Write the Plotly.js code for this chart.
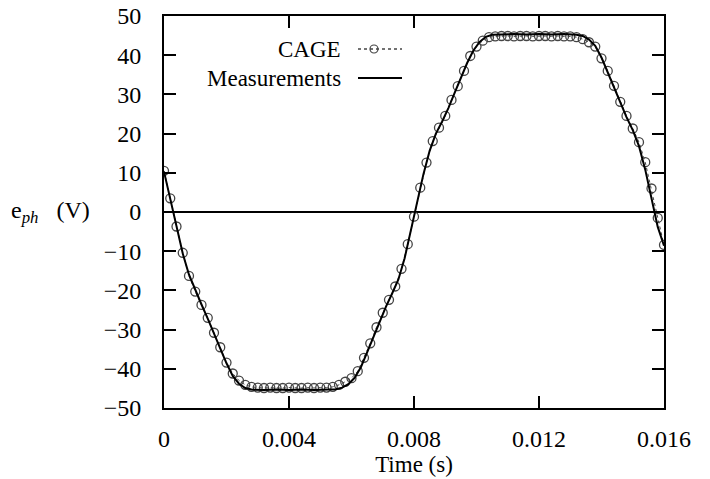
<!DOCTYPE html>
<html>
<head>
<meta charset="utf-8">
<script src="https://cdn.plot.ly/plotly-3.0.1.min.js"></script>
<style>html,body{margin:0;padding:0;background:#fff;}#chart{width:710px;height:479px;}</style>
</head>
<body>
<div id="chart"></div>
<script>
// CAGE simulation samples (time in s, EMF in V)
const cageTime = [0,0.0002,0.0004,0.0006,0.0008,0.001,0.0012,0.0014,0.0016,0.0018,
  0.002,0.0022,0.0024,0.0026,0.0028,0.003,0.0032,0.0034,0.0036,0.0038,
  0.004,0.0042,0.0044,0.0046,0.0048,0.005,0.0052,0.0054,0.0056,0.0058,
  0.006,0.0062,0.0064,0.0066,0.0068,0.007,0.0072,0.0074,0.0076,0.0078,
  0.008,0.0082,0.0084,0.0086,0.0088,0.009,0.0092,0.0094,0.0096,0.0098,
  0.01,0.0102,0.0104,0.0106,0.0108,0.011,0.0112,0.0114,0.0116,0.0118,
  0.012,0.0122,0.0124,0.0126,0.0128,0.013,0.0132,0.0134,0.0136,0.0138,
  0.014,0.0142,0.0144,0.0146,0.0148,0.015,0.0152,0.0154,0.0156,0.0158,0.016];
const cageEmf = [10.5,3.5,-3.7,-10.4,-16.3,-20.3,-23.7,-27.0,-30.8,-34.5,
  -38.4,-41.2,-43.0,-44.1,-44.6,-44.8,-44.9,-44.8,-44.9,-44.9,
  -44.8,-44.9,-44.9,-44.8,-44.9,-44.8,-44.8,-44.6,-44.1,-43.3,
  -42.4,-40.6,-37.2,-33.5,-29.4,-25.7,-22.4,-19.0,-14.5,-8.2,
  -1.2,6.2,12.6,18.1,21.5,24.5,28.6,32.1,36.0,39.8,
  42.2,43.7,44.6,44.8,44.9,44.9,44.8,44.9,44.9,44.8,
  44.9,44.9,44.8,44.9,44.8,44.8,44.6,44.1,43.3,42.2,
  39.2,36.0,32.2,28.1,24.5,21.3,17.8,12.7,6.0,-1.5,-8.4];

// Measured phase EMF
const measTime = [0,0.0002,0.0004,0.0006,0.0008,0.001,0.0012,0.0014,0.0016,0.0018,
  0.002,0.0022,0.0024,0.0026,0.0028,0.0032,0.0036,0.004,0.0044,0.0048,
  0.0052,0.0055,0.0057,0.0059,0.0061,0.0063,0.0065,0.0067,0.0069,0.0071,
  0.0073,0.0075,0.0077,0.0079,0.0081,0.0083,0.0085,0.0087,0.0089,0.0091,
  0.0093,0.0095,0.0097,0.0099,0.0101,0.0103,0.0105,0.0108,0.0112,0.0116,
  0.012,0.0124,0.0128,0.0132,0.0134,0.0136,0.0138,0.014,0.0142,0.0144,
  0.0146,0.0148,0.015,0.0152,0.0154,0.0156,0.0158,0.016];
const measEmf = [10.3,3.3,-3.9,-10.6,-16.0,-20.0,-23.6,-27.2,-31.0,-34.8,
  -38.6,-41.8,-43.8,-44.9,-45.3,-45.4,-45.3,-45.4,-45.3,-45.4,
  -45.3,-45.2,-44.8,-43.9,-42.3,-39.6,-35.8,-31.8,-27.8,-24.2,
  -20.8,-17.2,-11.8,-4.8,2.6,9.6,15.6,20.0,23.1,26.5,
  30.4,34.2,38.0,41.2,43.4,44.7,45.2,45.3,45.4,45.3,
  45.4,45.3,45.4,45.2,44.9,44.0,42.4,39.4,35.6,31.6,
  27.6,24.2,20.9,16.8,10.8,3.6,-3.8,-8.6];

const xTicks = [0,0.004,0.008,0.012,0.016];
const xTickText = ['0','0.004','0.008','0.012','0.016'];
const yTicks = [-50,-40,-30,-20,-10,0,10,20,30,40,50];

const FONT = "'Liberation Serif', 'DejaVu Serif', serif";

const traces = [
  {
    x: cageTime, y: cageEmf, name: 'CAGE', type: 'scatter', mode: 'lines+markers',
    line: {color: '#444', width: 1, dash: 'dot'},
    marker: {symbol: 'circle-open', size: 9, color: '#444', line: {width: 1.3, color: '#444'}},
    showlegend: false
  },
  {
    x: measTime, y: measEmf, name: 'Measurements', type: 'scatter', mode: 'lines',
    line: {color: '#000', width: 2},
    showlegend: false
  }
];

const layout = {
  width: 710, height: 479,
  margin: {l: 164, r: 46, t: 16, b: 71},
  paper_bgcolor: '#fff', plot_bgcolor: '#fff',
  font: {family: FONT, size: 23, color: '#000'},
  showlegend: false,
  xaxis: {
    range: [0, 0.016], tickvals: xTicks, ticktext: xTickText,
    ticks: 'inside', ticklen: 12, tickwidth: 2, tickcolor: '#000',
    showline: true, linewidth: 2, linecolor: '#000', mirror: 'ticks',
    showgrid: false, zeroline: false, ticklabelstandoff: 8,
    tickfont: {family: FONT, size: 24, color: '#000'},
    title: {text: 'Time (s)', font: {family: FONT, size: 23, color: '#000'}, standoff: 0}
  },
  yaxis: {
    range: [-50, 50], tickvals: yTicks,
    ticks: 'inside', ticklen: 12, tickwidth: 2, tickcolor: '#000',
    showline: true, linewidth: 2, linecolor: '#000', mirror: 'ticks',
    showgrid: false, zeroline: true, zerolinecolor: '#000', zerolinewidth: 2,
    ticklabelstandoff: 16,
    tickfont: {family: FONT, size: 24, color: '#000'}
  },
  annotations: [
    {xref: 'paper', yref: 'paper', x: -0.31, y: 0.5, xanchor: 'left', yanchor: 'middle',
     text: 'e<sub><i>ph</i></sub>&nbsp;&nbsp;&nbsp;(V)', showarrow: false, font: {family: FONT, size: 24, color: '#000'}},
    {xref: 'paper', yref: 'paper', x: 0.358, y: 0.9158, xanchor: 'right', yanchor: 'middle',
     text: 'CAGE', showarrow: false, font: {family: FONT, size: 23, color: '#000'}},
    {xref: 'paper', yref: 'paper', x: 0.358, y: 0.8418, xanchor: 'right', yanchor: 'middle',
     text: 'Measurements', showarrow: false, font: {family: FONT, size: 23, color: '#000'}}
  ],
  shapes: [
    {type: 'line', xref: 'paper', yref: 'paper', x0: 0.388, x1: 0.476, y0: 0.9158, y1: 0.9158,
     line: {color: '#444', width: 1.5, dash: 'dot'}},
    {type: 'circle', xref: 'paper', yref: 'paper', xsizemode: 'pixel', ysizemode: 'pixel',
     xanchor: 0.42, yanchor: 0.9158, x0: -4, x1: 4, y0: -4, y1: 4,
     fillcolor: 'rgba(0,0,0,0)', line: {color: '#444', width: 1.2}},
    {type: 'line', xref: 'paper', yref: 'paper', x0: 0.388, x1: 0.476, y0: 0.8418, y1: 0.8418,
     line: {color: '#000', width: 2}}
  ]
};

Plotly.newPlot('chart', traces, layout, {staticPlot: true, displayModeBar: false});
</script>
</body>
</html>
